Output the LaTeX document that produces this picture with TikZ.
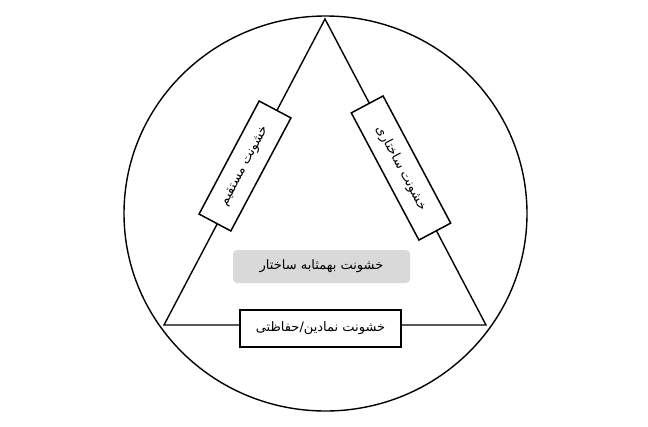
\documentclass[tikz,border=0pt]{standalone}
\usepackage{fontspec}
\usetikzlibrary{shapes.geometric}
\newfontfamily\arabicfont[Script=Arabic]{DejaVu Sans}
\TeXXeTstate=1
\newcommand{\fa}[1]{\arabicfont\beginR #1\endR}
\begin{document}
\begin{tikzpicture}[x=1pt,y=-1pt,
  ln/.style={line width=1.4pt, black},
  sidebox/.style={draw, line width=1.5pt, fill=white, inner sep=0pt, minimum height=36pt, font=\fontsize{13}{15}\selectfont},
  graybox/.style={fill=black!15, rounded corners=4pt, inner sep=0pt, minimum width=177pt, minimum height=33pt, font=\fontsize{13}{15}\selectfont}]
\useasboundingbox (0,0) rectangle (648,426);
\node[ellipse, draw, ln, minimum width=403pt, minimum height=395pt, inner sep=0pt, outer sep=0pt] (ring) at (325.5,213.5) {};
\coordinate (top) at (325,19);
\coordinate (bl) at (164,325);
\coordinate (br) at (486,325);
\draw[ln, line join=miter] (bl) -- (top) -- (br) -- cycle;
\node[sidebox, minimum width=128pt, rotate=62] (direct) at (245,166) {\fa{خشونت مستقیم}};
\node[sidebox, minimum width=144pt, rotate=-62] (struct) at (401,168) {\fa{خشونت ساختاری}};
\node[sidebox, minimum width=161pt, minimum height=37pt, rotate=0] (symb) at (320.5,328.5) {\fa{خشونت نمادین/حفاظتی}};
\node[graybox] (center) at (321.5,266.5) {\fa{خشونت بهمثابه ساختار}};
\end{tikzpicture}
\end{document}
